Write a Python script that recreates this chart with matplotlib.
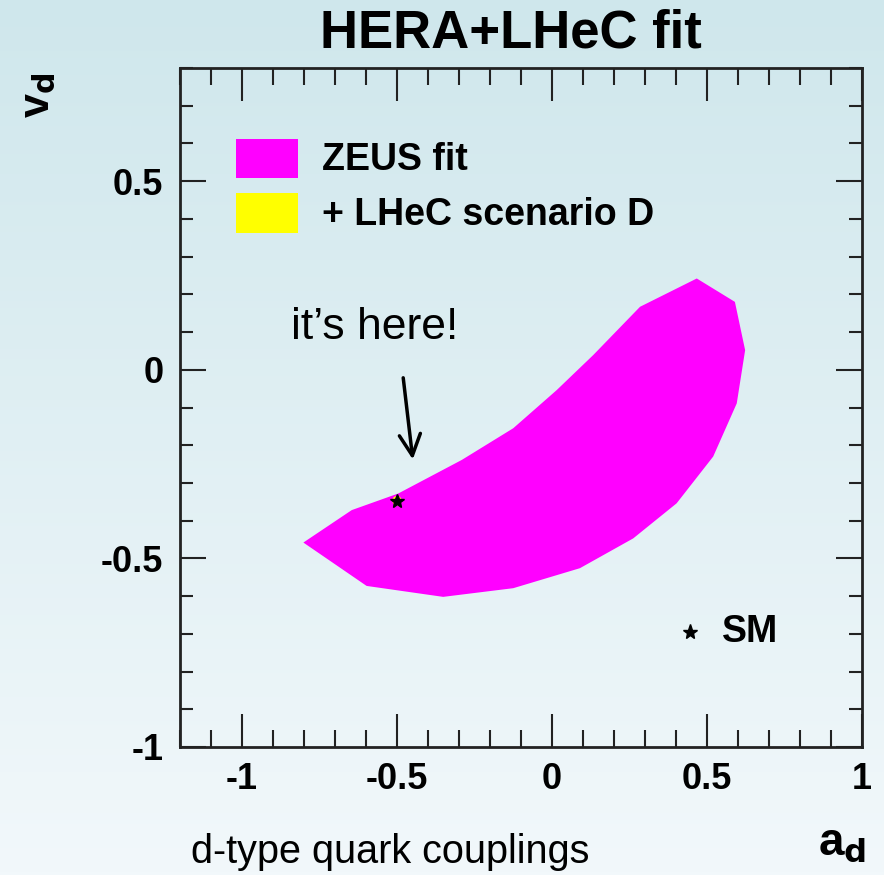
import numpy as np
import matplotlib
matplotlib.use("Agg")
import matplotlib.pyplot as plt
from matplotlib.patches import Rectangle, Ellipse

# ---- data ----
zeus_a = [-0.802, -0.646, -0.496, -0.291, -0.125, 0.015, 0.133, 0.284, 0.467,
          0.590, 0.623, 0.596, 0.520, 0.402, 0.262, 0.090, -0.125, -0.351, -0.598]
zeus_v = [-0.458, -0.372, -0.328, -0.239, -0.155, -0.054, 0.039, 0.167, 0.242,
          0.180, 0.052, -0.089, -0.230, -0.354, -0.447, -0.526, -0.579, -0.602, -0.573]
sm_a, sm_v = -0.5, -0.347
lhec_da, lhec_dv = 0.03, 0.025
x_ticks = [-1, -0.5, 0, 0.5, 1]
x_ticklabels = ["-1", "-0.5", "0", "0.5", "1"]
y_ticks = [-1, -0.5, 0, 0.5]
y_ticklabels = ["-1", "-0.5", "0", "0.5"]
legend_labels = ["ZEUS fit", "+ LHeC scenario D"]
legend_colors = ["#ff00ff", "#ffff00"]

plt.rcParams['font.family'] = ['Liberation Sans', 'DejaVu Sans']

fig = plt.figure(figsize=(8.84, 8.75), dpi=100)

# background gradient
bg = fig.add_axes([0, 0, 1, 1], zorder=-10)
grad = np.linspace(0, 1, 256).reshape(-1, 1)
top = np.array([207, 231, 236]) / 255.0
bot = np.array([242, 248, 251]) / 255.0
img = top[None, None, :] * (1 - grad[:, :, None]) + bot[None, None, :] * grad[:, :, None]
bg.imshow(img, aspect='auto', extent=[0, 1, 0, 1], origin='upper')
bg.axis('off')

ax = fig.add_axes([180/884, 1-747/875, 682/884, 679/875])
ax.set_facecolor('none')
ax.set_xlim(-1.2, 1.0)
ax.set_ylim(-1.0, 0.8)

ax.fill(zeus_a, zeus_v, color=legend_colors[0], lw=0, zorder=2)
ax.add_patch(Ellipse((sm_a, sm_v), lhec_da, lhec_dv, color=legend_colors[1], lw=0, zorder=3))
ax.plot([sm_a], [sm_v], marker='*', color='black', markersize=10, zorder=4, lw=0)

# ticks
ax.set_xticks(x_ticks)
ax.set_xticklabels(x_ticklabels)
ax.set_yticks(y_ticks)
ax.set_yticklabels(y_ticklabels)
ax.set_xticks(np.arange(-1.2, 1.001, 0.1), minor=True)
ax.set_yticks(np.arange(-1.0, 0.801, 0.1), minor=True)
ax.tick_params(which='both', direction='in', top=True, right=True, color='#222222', width=1.5)
ax.tick_params(axis='x', which='major', length=24, labelsize=26, pad=11)
ax.tick_params(axis='x', which='minor', length=12)
ax.tick_params(axis='y', which='major', length=19, labelsize=26, pad=12)
ax.tick_params(axis='y', which='minor', length=9.5)
for lab in ax.get_xticklabels() + ax.get_yticklabels():
    lab.set_fontweight('bold')
for s in ax.spines.values():
    s.set_color('#222222')
    s.set_linewidth(2)

# legend
rects = [(0.8954, 0.838), (0.816, 0.757)]
text_y = [0.8645, 0.7835]
for (t, b), c, lab, ty in zip(rects, legend_colors, legend_labels, text_y):
    ax.add_patch(Rectangle((0.0821, b), 0.091, t - b, transform=ax.transAxes,
                           facecolor=c, edgecolor='none', zorder=5))
    ax.text(0.208, ty, lab, transform=ax.transAxes, fontsize=27, fontweight='bold',
            va='center', ha='left', zorder=5)

ax.plot([0.748], [0.169], marker='*', color='black', markersize=11,
        transform=ax.transAxes, lw=0)
ax.text(0.795, 0.169, "SM", transform=ax.transAxes, fontsize=27, fontweight='bold',
        va='center', ha='left')

# annotation
ax.annotate("", xy=(-0.448, -0.245), xytext=(-0.481, -0.014),
            arrowprops=dict(arrowstyle='->', color='black', lw=2.5,
                            mutation_scale=38))
ax.text(-0.571, 0.111, "it\u2019s here!", fontsize=32, ha='center', va='center')

# titles and labels
fig.text(511/884, 1-34/875, "HERA+LHeC fit", fontsize=38, fontweight='bold',
         ha='center', va='center')
fig.text(38/884, 1-95/875, "v$_\\mathbf{d}$", fontsize=31, fontweight='bold',
         rotation=90, ha='center', va='center')
fig.text(842/884, 1-842/875, "a$_\\mathbf{d}$", fontsize=33, fontweight='bold',
         ha='center', va='center')
fig.text(390/884, 1-852/875, "d-type quark couplings", fontsize=28.5,
         ha='center', va='center')

fig.savefig("out.png", dpi=100)
